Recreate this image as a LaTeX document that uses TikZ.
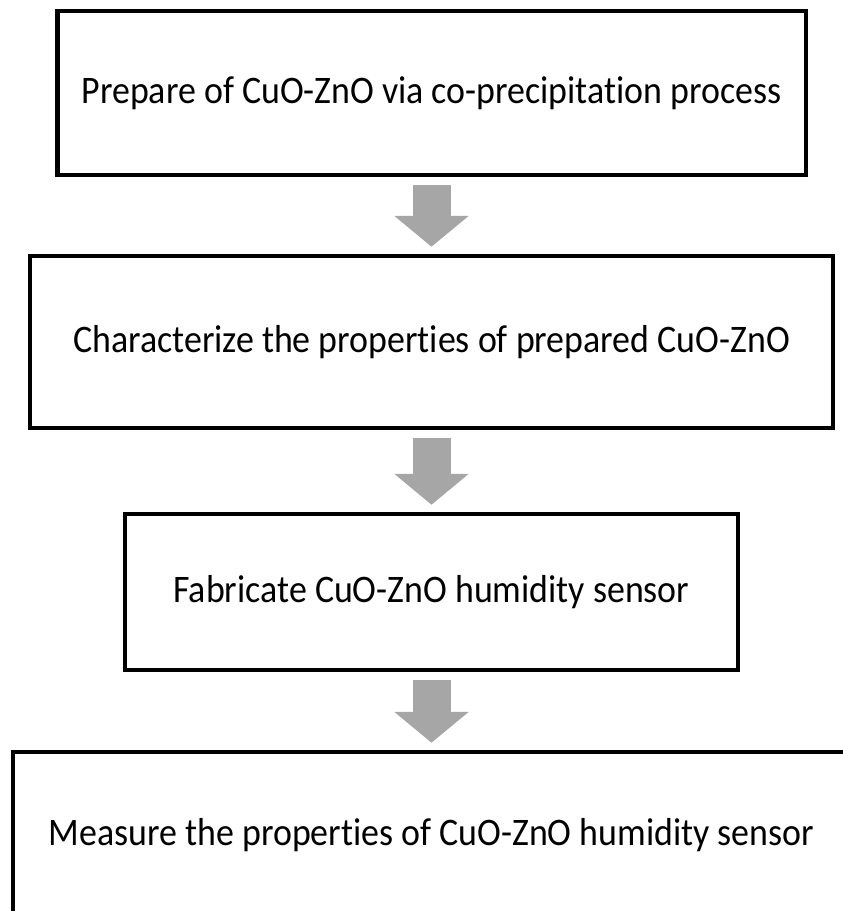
\documentclass[tikz,border=0pt]{standalone}
\usepackage{fontspec}
\setmainfont{Carlito}[Ligatures=NoCommon,FakeStretch=0.92]
\usetikzlibrary{arrows.meta}
\definecolor{arrowgray}{RGB}{166,166,166}

\begin{document}
\begin{tikzpicture}[x=1pt,y=1pt,
  stepbox/.style={draw, line width=4.5pt, inner sep=0pt, font=\fontsize{39}{46}\selectfont},
  flowarrow/.style={arrowgray, line width=38pt, -{Triangle[width=73pt,length=31pt]},
    shorten <=8pt, shorten >=7pt}]
  \useasboundingbox (0,0) rectangle (843,-911);
  \node[stepbox, minimum width=748.5pt, minimum height=164pt] (prep) at (431.5,-93)
    {Prepare of CuO-ZnO via co-precipitation process};
  \node[stepbox, minimum width=803pt, minimum height=172pt] (char) at (431.5,-342)
    {Characterize the properties of prepared CuO-ZnO};
  \node[stepbox, minimum width=613pt, minimum height=156pt] (fab) at (431.5,-592)
    {Fabricate CuO-ZnO humidity sensor};
  \node[stepbox, minimum width=837pt, minimum height=166pt] (meas) at (431.5,-835)
    {Measure the properties of CuO-ZnO humidity sensor};
  % block arrows between the steps
  \draw[flowarrow] (prep.south) -- (char.north);
  \draw[flowarrow] (char.south) -- (fab.north);
  \draw[flowarrow] (fab.south) -- (meas.north);
\end{tikzpicture}
\end{document}
